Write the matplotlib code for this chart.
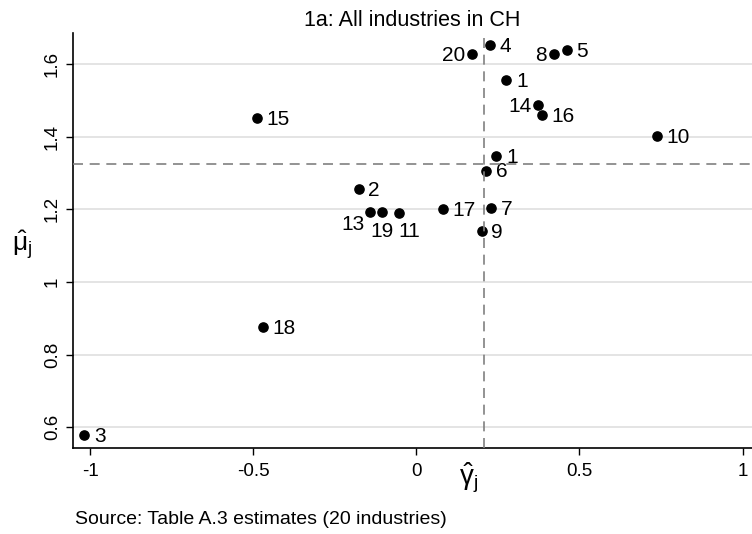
#!/usr/bin/env python3
"""Scatter of estimated mu_j against gamma_j for 20 industries (CH)."""

import matplotlib
matplotlib.use("Agg")
import matplotlib.pyplot as plt

plt.rcParams["font.family"] = ["Liberation Sans", "DejaVu Sans"]
plt.rcParams["mathtext.fontset"] = "custom"
plt.rcParams["mathtext.rm"] = "Liberation Sans"
plt.rcParams["mathtext.it"] = "Liberation Sans"

# Industry estimates.
labels = ["3", "18", "15", "2", "13", "19", "11", "17", "7", "9",
          "6", "1", "1", "20", "4", "8", "5", "14", "16", "10"]
gamma = [-1.018, -0.470, -0.489, -0.177, -0.143, -0.104, -0.053, 0.081, 0.229, 0.200,
         0.213, 0.245, 0.276, 0.172, 0.225, 0.421, 0.461, 0.374, 0.385, 0.738]
mu = [0.579, 0.876, 1.451, 1.255, 1.193, 1.193, 1.191, 1.202, 1.203, 1.140,
      1.307, 1.347, 1.556, 1.629, 1.653, 1.629, 1.639, 1.488, 1.459, 1.403]

# Reference lines (averages).
gamma_ref = 0.206
mu_ref = 1.326

x_ticks = [-1, -0.5, 0, 0.5, 1]
x_ticklabels = ["-1", "-0.5", "0", "0.5", "1"]
y_ticks = [0.6, 0.8, 1, 1.2, 1.4, 1.6]
y_ticklabels = ["0.6", "0.8", "1", "1.2", "1.4", "1.6"]

# Label placement, Stata style clock positions.
label_clock = {"20": 9, "8": 9, "14": 9, "13": 7, "19": 6, "11": 5}

# clock -> (dx, dy) in points, ha, va
clock_style = {
    3: ((7, -1), "left", "center"),
    9: ((-5, -1), "right", "center"),
    6: ((0, -7), "center", "top"),
    7: ((-4, -2), "right", "top"),
    5: ((7, -7), "center", "top"),
}

fig = plt.figure(figsize=(7.52, 5.34), dpi=100)
ax = fig.add_axes([0.0975, 0.1616, 0.9025, 0.7766])

ax.set_xlim(-1.0515, 1.029)
ax.set_ylim(0.5435, 1.686)

ax.set_yticks(y_ticks)
ax.set_yticklabels(y_ticklabels, rotation=90, va="center", fontsize=13.5)
ax.set_xticks(x_ticks)
ax.set_xticklabels(x_ticklabels, fontsize=13.5)
ax.tick_params(axis="both", direction="out", length=5, width=1, color="black")
ax.tick_params(axis="y", pad=4)
ax.tick_params(axis="x", pad=6)

ax.grid(axis="y", color="#e4e4e4", linewidth=1.4)
ax.set_axisbelow(True)
for side in ("top", "right"):
    ax.spines[side].set_visible(False)
for side in ("left", "bottom"):
    ax.spines[side].set_linewidth(1.2)

ax.axvline(gamma_ref, color="#808080", linewidth=1.2, linestyle=(0, (6, 4)), zorder=4)
ax.axhline(mu_ref, color="#808080", linewidth=1.2, linestyle=(0, (6, 4)), zorder=4)

ax.scatter(gamma, mu, s=44, color="black", zorder=3)

for g, m, lab in zip(gamma, mu, labels):
    (dx, dy), ha, va = clock_style[label_clock.get(lab, 3)]
    ax.annotate(lab, (g, m), xytext=(dx, dy), textcoords="offset points",
                ha=ha, va=va, fontsize=15, color="black", zorder=3)

ax.set_title("1a: All industries in CH", fontsize=15.5, pad=5)

ax.set_xlabel(r"$\hat{\gamma}_j$", fontsize=20)
ax.xaxis.set_label_coords(0.582, -0.030)
ax.set_ylabel(r"$\hat{\mu}_j$", fontsize=19, rotation=0, va="center", ha="center")
ax.yaxis.set_label_coords(-0.075, 0.489)

fig.text(0.1, 0.028, "Source: Table A.3 estimates (20 industries)",
         fontsize=14, ha="left", va="center")

fig.savefig("out.png", dpi=100)
